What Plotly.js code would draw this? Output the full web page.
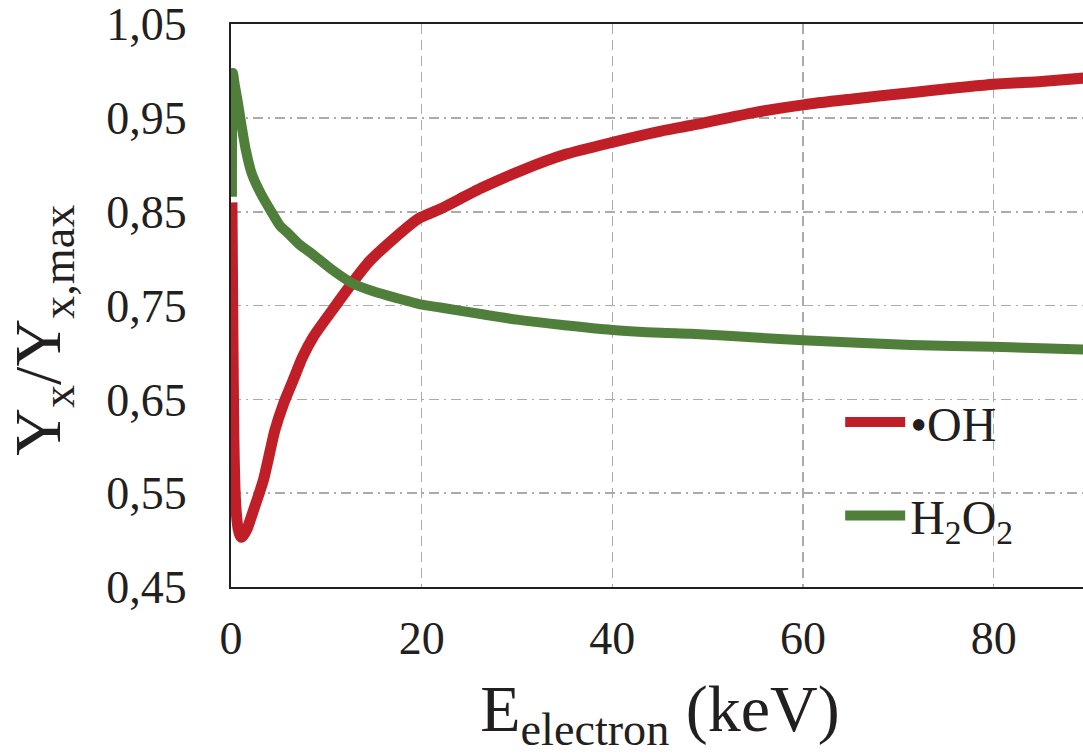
<!DOCTYPE html>
<html>
<head>
<meta charset="utf-8">
<script src="https://cdn.plot.ly/plotly-3.0.1.min.js"></script>
<style>
html, body { margin:0; padding:0; background:#fff; overflow:hidden; }
#chart { width:1095px; height:755px; }
</style>
</head>
<body>
<div id="chart"></div>
<script>
// Electron energy (keV)
const ohEnergy = [0.1, 0.2, 0.3, 0.4, 0.55, 0.75, 0.95, 1.1, 1.3, 1.65, 2.3, 3.4, 4.6, 5.5, 6.5, 7.5, 8.65, 10.4, 12.7, 14.5, 16.7, 19.7, 21.95, 26.2, 30.7, 35, 40, 45.1, 48.2, 55, 60, 65, 71.3, 80, 85, 90];
const ohValues = [0.86, 0.72, 0.61, 0.56, 0.53, 0.512, 0.505, 0.503, 0.505, 0.511, 0.53, 0.564, 0.617, 0.645, 0.670, 0.695, 0.717, 0.742, 0.774, 0.797, 0.818, 0.843, 0.853, 0.875, 0.895, 0.911, 0.924, 0.936, 0.942, 0.956, 0.964, 0.970, 0.977, 0.986, 0.989, 0.993];

const h2o2Energy = [0.1, 0.2, 0.4, 0.7, 0.98, 1.55, 2.17, 3.1, 4.35, 5.15, 6.0, 7.2, 8.65, 10.5, 12.7, 15, 17.4, 20, 21.95, 26.2, 30, 35, 40, 45.1, 48.2, 55, 60, 71.3, 80, 90];
const h2o2Values = [0.866, 0.998, 0.985, 0.968, 0.950, 0.916, 0.891, 0.870, 0.848, 0.835, 0.827, 0.815, 0.804, 0.789, 0.774, 0.765, 0.758, 0.751, 0.748, 0.741, 0.735, 0.729, 0.724, 0.721, 0.720, 0.716, 0.713, 0.708, 0.706, 0.703];

const seriesNames = ['•OH', 'H<sub>2</sub>O<sub>2</sub>'];
const xTickVals = [0, 20, 40, 60, 80];
const yTickVals = [0.45, 0.55, 0.65, 0.75, 0.85, 0.95, 1.05];

const FONT = 'Liberation Serif, Times New Roman, serif';

const traces = [
  {
    x: ohEnergy, y: ohValues, name: seriesNames[0], mode: 'lines',
    line: {color: '#c01f27', width: 11, shape: 'spline', smoothing: 0.6}, legendgroup: 'a'
  },
  {
    x: h2o2Energy, y: h2o2Values, name: seriesNames[1], mode: 'lines',
    line: {color: '#4f7f3a', width: 10, shape: 'spline', smoothing: 0.6}, legendgroup: 'b'
  }
];

const layout = {
  width: 1095, height: 755,
  margin: {l: 231, r: 6, t: 24, b: 168},
  paper_bgcolor: '#fff', plot_bgcolor: '#fff',
  separators: ', ',
  font: {family: FONT, color: '#231f20', size: 46},
  showlegend: true,
  legend: {
    x: 0.71, y: 0.36, xanchor: 'left', yanchor: 'top',
    font: {family: FONT, size: 48, color: '#231f20'},
    bgcolor: 'rgba(0,0,0,0)', traceorder: 'grouped', tracegroupgap: 28,
    itemwidth: 60
  },
  xaxis: {
    range: [0, 90], tickvals: xTickVals, ticktext: xTickVals.map(String),
    showline: true, linecolor: '#231f20', linewidth: 2, mirror: true,
    showgrid: true, gridcolor: '#ababab', gridwidth: 1.5, griddash: '10px,6px',
    zeroline: false, ticks: '', ticklabelstandoff: 10, ticklabeloverflow: 'allow',
    tickfont: {family: FONT, size: 46, color: '#231f20'},
    title: {text: 'E<sub>electron</sub> (keV)', font: {family: FONT, size: 66, color: '#231f20'}, standoff: 29}
  },
  yaxis: {
    range: [0.45, 1.0502], tickvals: yTickVals, tickformat: '.2f',
    showline: true, linecolor: '#231f20', linewidth: 2, mirror: true,
    showgrid: true, gridcolor: '#ababab', gridwidth: 1.5, griddash: '10px,5px,2px,5px',
    zeroline: false, ticks: '', ticklabelstandoff: 33, ticklabeloverflow: 'allow',
    tickfont: {family: FONT, size: 46, color: '#231f20'}
  },
  annotations: [
    {
      text: 'Y<sub>x</sub>/Y<sub>x,max</sub>', textangle: -90,
      xref: 'paper', yref: 'paper', x: -0.2195, y: 0.4565,
      xanchor: 'center', yanchor: 'middle', showarrow: false,
      font: {family: FONT, size: 66, color: '#231f20'}
    }
  ]
};

Plotly.newPlot('chart', traces, layout, {displayModeBar: false, staticPlot: true});
</script>
</body>
</html>
